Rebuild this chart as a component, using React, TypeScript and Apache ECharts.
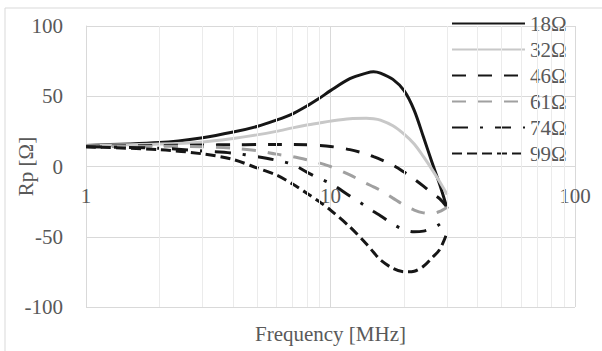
import React, { useEffect, useRef } from "react";
import * as echarts from "echarts";

const FREQ = [1, 2, 3, 4, 5, 6, 7, 8, 9, 10, 12, 14, 15, 16, 18, 20, 22, 24, 26, 28, 30];
const NAMES = ["18Ω", "32Ω", "46Ω", "61Ω", "74Ω", "99Ω"];
const R18 = [15, 17, 20.5, 24.5, 28.5, 33, 37.5, 43, 48.5, 54, 62.5, 66.5, 67.5, 66.5, 62, 54, 40, 21, 3, -13, -30];
const R32 = [15, 16, 17.5, 20, 22.5, 25, 27.5, 29.5, 31, 32.3, 34, 34.3, 34, 33, 29, 23, 16, 7, -2, -11, -20];
const R46 = [14.5, 15, 15.3, 15.5, 15.6, 15.6, 15.6, 15.4, 15, 14.3, 12, 9, 7, 5, 1, -4, -9, -14, -19, -23, -29];
const R61 = [14.5, 14.5, 14, 13, 11.3, 8.8, 7, 4.8, 2.5, 0, -6, -12, -14.5, -17, -22.5, -27.5, -31, -33, -33.5, -32, -29];
const R74 = [14, 13, 11, 9.5, 7, 4.5, 1.5, -4, -8.5, -12, -21, -28.5, -32, -35, -41, -45, -46.5, -46, -44, -41, -36];
const R99 = [14, 12, 9, 5, -1, -6, -12.5, -19, -25, -31, -43, -55, -61, -66.5, -72.5, -75, -74.5, -71, -65, -59, -47];
const VALUES = [R18, R32, R46, R61, R74, R99];
const COLORS = ["#161616", "#c8c8c8", "#161616", "#a0a0a0", "#161616", "#161616"];
const DASHES: any[] = ["solid", "solid", [14, 12], [14, 12], [16, 12, 3, 12], [10, 5]];
const MINOR_X = [2, 3, 4, 5, 6, 7, 8, 9, 20, 30, 40, 50, 60, 70, 80, 90];
const Y_MIN = -100;
const Y_MAX = 100;
const Y_STEP = 50;
const X_MIN = 1;
const X_MAX = 100;

const FONT = "Liberation Serif";
const TXT = "#595959";
const FS = 21;

export default function App() {
  const ref = useRef<HTMLDivElement>(null);
  useEffect(() => {
    if (!ref.current) return;
    const chart = echarts.init(ref.current, undefined, { renderer: "svg" });
    const series: any[] = [
      {
        type: "line",
        name: "minor",
        data: [],
        z: 1,
        silent: true,
        markLine: {
          silent: true,
          symbol: "none",
          label: { show: false },
          lineStyle: { color: "#ebebeb", type: "solid", width: 1 },
          data: MINOR_X.map((v) => ({ xAxis: v })),
          animation: false,
        },
      },
    ];
    NAMES.forEach((n, i) => {
      series.push({
        type: "line",
        name: n,
        z: 3,
        smooth: 0.3,
        symbol: "none",
        data: FREQ.map((f, j) => [f, VALUES[i][j]]),
        lineStyle: { color: COLORS[i], width: 3, type: DASHES[i] },
        itemStyle: { color: COLORS[i] },
      });
    });
    chart.setOption({
      animation: false,
      textStyle: { fontFamily: FONT },
      graphic: [
        {
          type: "rect",
          shape: { x: 5, y: 8, width: 640, height: 400 },
          style: { fill: "none", stroke: "#d9d9d9", lineWidth: 1 },
          silent: true,
        },
      ],
      grid: { left: 86, right: 27, top: 26, bottom: 44, outerBoundsMode: "none", containLabel: false },
      legend: {
        data: NAMES,
        orient: "vertical",
        left: 446,
        top: 8,
        itemWidth: 73,
        itemHeight: 14,
        itemGap: 5,
        itemStyle: { opacity: 0 },
        textStyle: { fontSize: FS, color: TXT, fontFamily: FONT, lineHeight: 20 },
      },
      xAxis: {
        type: "log",
        logBase: 10,
        min: X_MIN,
        max: X_MAX,
        name: "Frequency [MHz]",
        nameLocation: "middle",
        nameGap: 16,
        nameMoveOverlap: false,
        nameTextStyle: { fontSize: FS, color: TXT, fontFamily: FONT },
        axisLine: { show: false, onZero: false },
        axisTick: { show: false },
        axisLabel: { fontSize: FS, color: TXT, fontFamily: FONT, margin: -122 },
        splitLine: { show: true, lineStyle: { color: "#d9d9d9", width: 1 } },
      },
      yAxis: {
        type: "value",
        min: Y_MIN,
        max: Y_MAX,
        interval: Y_STEP,
        name: "Rp [Ω]",
        nameLocation: "middle",
        nameGap: 50,
        nameMoveOverlap: false,
        nameRotate: 90,
        nameTextStyle: { fontSize: FS, color: TXT, fontFamily: FONT },
        axisLine: { show: true, lineStyle: { color: "#d9d9d9", width: 1 } },
        axisTick: { show: false },
        axisLabel: { fontSize: FS, color: TXT, fontFamily: FONT, margin: 23 },
        splitLine: { show: true, lineStyle: { color: "#d9d9d9", width: 1 } },
      },
      series,
    });
    return () => chart.dispose();
  }, []);
  return (
    <div
      ref={ref}
      style={{ position: "absolute", left: 0, top: 0, width: 602, height: 351, background: "#fff" }}
    />
  );
}
